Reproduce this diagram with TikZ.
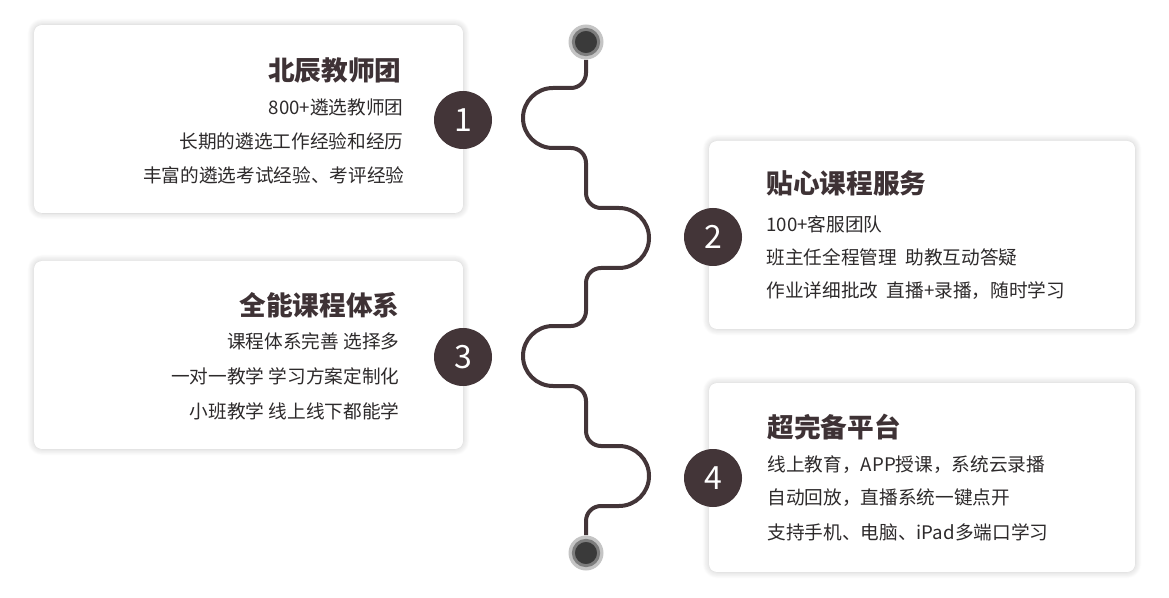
\documentclass[tikz,border=0pt]{standalone}
\usepackage{fontspec}
\setmainfont{Noto Sans CJK SC}
\usetikzlibrary{shadows.blur}

\definecolor{cDark}{RGB}{67,53,56}
\definecolor{cTitle}{RGB}{62,50,53}
\definecolor{cText}{RGB}{45,42,43}
\definecolor{cRingOut}{RGB}{196,196,196}
\definecolor{cRingMid}{RGB}{125,125,125}
\definecolor{cRingIn}{RGB}{58,58,58}

\tikzset{every picture/.style={line width=0.75pt},
  card/.style={fill=white, draw=none, rounded corners=6pt,
    blur shadow={shadow xshift=0pt, shadow yshift=0pt, shadow blur radius=5pt, shadow blur steps=10, shadow opacity=22}},
  numdot/.style={circle, fill=cDark, text=white, minimum size=43.5pt, inner sep=0pt,
    font=\fontsize{24pt}{24pt}\selectfont},
  cardtitle/.style={inner sep=0pt, text=cTitle, font=\fontsize{20pt}{20pt}\selectfont\bfseries},
  cardline/.style={inner sep=0pt, text=cText, font=\fontsize{14pt}{14pt}\selectfont},
  endring/.style={circle, fill=cRingOut, minimum size=26.25pt, inner sep=0pt},
  endcore/.style={circle, fill=cRingIn, draw=cRingMid, line width=2.25pt, minimum size=19pt, inner sep=0pt},
  wave/.style={draw=cDark, line width=3pt},
}

\begin{document}
\begin{tikzpicture}[x=0.75pt,y=0.75pt,yscale=-1,xscale=1]
\useasboundingbox (0,0) rectangle (1169,598);

% Cards
\path [card] (34,25) rectangle (463,213);
\path [card] (34,261) rectangle (463,449);
\path [card] (709,141) rectangle (1135,329);
\path [card] (709,383) rectangle (1135,572);

% End dots
\draw (586,42) node [endring] (top) {};
\draw (top) node [endcore] (topc) {};
\draw (586,553) node [endring] (bot) {};
\draw (bot) node [endcore] (botc) {};

% Wave
\draw [wave] (top.south) -- (586,73) arc [start angle=0, end angle=90, radius=15]
  -- (553,88) arc [start angle=270, end angle=90, radius=30]
  -- (571,148) arc [start angle=270, end angle=360, radius=15]
  -- (586,193) arc [start angle=180, end angle=90, radius=15]
  -- (619,208) arc [start angle=-90, end angle=90, radius=30]
  -- (601,268) arc [start angle=270, end angle=180, radius=15]
  -- (586,311) arc [start angle=0, end angle=90, radius=15]
  -- (553,326) arc [start angle=270, end angle=90, radius=30]
  -- (571,386) arc [start angle=270, end angle=360, radius=15]
  -- (586,431) arc [start angle=180, end angle=90, radius=15]
  -- (619,446) arc [start angle=-90, end angle=90, radius=30]
  -- (601,506) arc [start angle=270, end angle=180, radius=15]
  -- (bot.north);

% Number circles
\draw (463,120) node [numdot] (n1) {1};
\draw (713,237) node [numdot] (n2) {2};
\draw (463,357) node [numdot] (n3) {3};
\draw (713,478) node [numdot] (n4) {4};

% Text Node
\draw (402,70) node [cardtitle, anchor=east] (t1) {北辰教师团};
\draw (404,107) node [cardline, anchor=east] (t1a) {800+遴选教师团};
\draw (404,141) node [cardline, anchor=east] (t1b) {长期的遴选工作经验和经历};
\draw (405,175) node [cardline, anchor=east] (t1c) {丰富的遴选考试经验、考评经验};
% Text Node
\draw (766,183) node [cardtitle, anchor=west] (t2) {贴心课程服务};
\draw (766,224) node [cardline, anchor=west] (t2a) {100+客服团队};
\draw (766,257) node [cardline, anchor=west] (t2b) {班主任全程管理\hspace{0.45em}助教互动答疑};
\draw (766,291) node [cardline, anchor=west] (t2c) {作业详细批改\hspace{0.45em}直播+录播，随时学习};
% Text Node
\draw (400,305) node [cardtitle, anchor=east] (t3) {全能课程体系};
\draw (400,341) node [cardline, anchor=east] (t3a) {课程体系完善 选择多};
\draw (400,376) node [cardline, anchor=east] (t3b) {一对一教学 学习方案定制化};
\draw (400,411) node [cardline, anchor=east] (t3c) {小班教学 线上线下都能学};
% Text Node
\draw (767,427) node [cardtitle, anchor=west] (t4) {超完备平台};
\draw (767,465) node [cardline, anchor=west] (t4a) {线上教育，APP授课，系统云录播};
\draw (767,498) node [cardline, anchor=west] (t4b) {自动回放，直播系统一键点开};
\draw (767,532) node [cardline, anchor=west] (t4c) {支持手机、电脑、iPad多端口学习};
\end{tikzpicture}
\end{document}
